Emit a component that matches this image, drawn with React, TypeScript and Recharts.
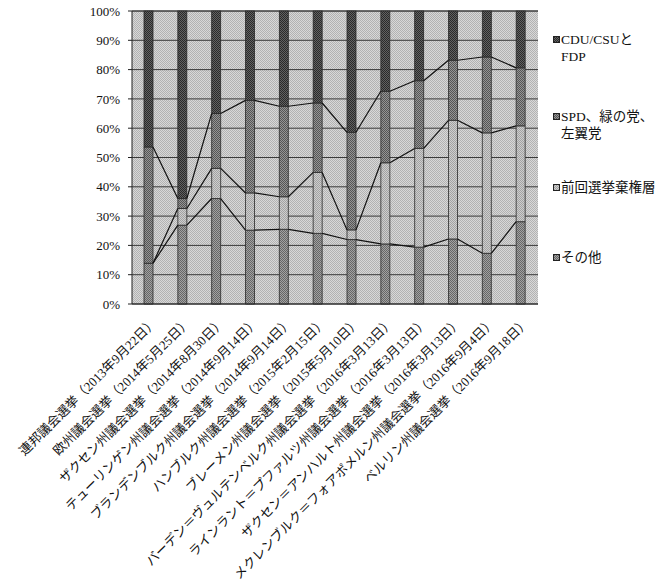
import { Bar, BarChart, CartesianGrid, XAxis, YAxis } from 'recharts';

const elections = [
  '連邦議会選挙（2013年9月22日）',
  '欧州議会選挙（2014年5月25日）',
  'ザクセン州議会選挙（2014年8月30日）',
  'テューリンゲン州議会選挙（2014年9月14日）',
  'ブランデンブルク州議会選挙（2014年9月14日）',
  'ハンブルク州議会選挙（2015年2月15日）',
  'ブレーメン州議会選挙（2015年5月10日）',
  'バーデン＝ヴュルテンベルク州議会選挙（2016年3月13日）',
  'ラインラント＝プファルツ州議会選挙（2016年3月13日）',
  'ザクセン＝アンハルト州議会選挙（2016年3月13日）',
  'メクレンブルク＝フォアポメルン州議会選挙（2016年9月4日）',
  'ベルリン州議会選挙（2016年9月18日）',
];

// shares in %, bottom of the stack first
const others = [13.9, 26.9, 36.0, 25.2, 25.5, 24.1, 22.0, 20.5, 19.4, 22.2, 17.3, 28.1];
const nonVoters = [0, 5.7, 10.3, 12.7, 11.1, 20.8, 3.3, 27.7, 33.7, 40.5, 41.1, 32.7];
const spdGreenLeft = [39.7, 3.4, 18.7, 31.6, 30.9, 23.7, 33.3, 24.4, 23.1, 20.5, 25.9, 19.8];
const cduFdp = [46.4, 64.0, 35.0, 30.5, 32.5, 31.4, 41.4, 27.4, 23.8, 16.8, 15.7, 19.4];

const yTicks = [0, 10, 20, 30, 40, 50, 60, 70, 80, 90, 100];

const legendItems = [
  { lines: ['CDU/CSUと', 'FDP'], fill: 'url(#pCdu)', top: 31 },
  { lines: ['SPD、緑の党、', '左翼党'], fill: 'url(#pSpd)', top: 108 },
  { lines: ['前回選挙棄権層'], fill: 'url(#pNon)', top: 179 },
  { lines: ['その他'], fill: 'url(#pOth)', top: 249 },
];

const data = elections.map((name, i) => ({
  name,
  others: others[i],
  nonVoters: nonVoters[i],
  spd: spdGreenLeft[i],
  cdu: cduFdp[i],
}));

const FONT = '"Liberation Serif", "Noto Sans CJK JP", serif';
const OUTLINE = '#2a2a2a';

// positions of the top bars, filled while they render, used for the series lines
const geom: { x: number; w: number; base: number; px: number }[] = [];

function cumulative(row: any) {
  const a = row.others;
  const b = a + row.nonVoters;
  const c = b + row.spd;
  return [a, b, c];
}

function TopBarWithLines(props: any) {
  const { x, y, width, height, index, payload, fill } = props;
  const total = payload.others + payload.nonVoters + payload.spd + payload.cdu;
  const px = height / payload.cdu;
  const base = y + total * px;
  geom[index] = { x, w: width, base, px };
  const prev = index > 0 ? geom[index - 1] : null;
  const prevRow = index > 0 ? data[index - 1] : null;
  const cur = cumulative(payload);
  return (
    <g>
      <rect x={x} y={y} width={width} height={height} fill={fill} stroke={OUTLINE} strokeWidth={0.8} />
      {prev && prevRow &&
        cumulative(prevRow).map((v, k) => (
          <line
            key={k}
            x1={prev.x + prev.w}
            y1={prev.base - v * prev.px}
            x2={x}
            y2={base - cur[k] * px}
            stroke="#111"
            strokeWidth={1.2}
          />
        ))}
    </g>
  );
}

function ElectionTick({ x, y, payload }: any) {
  const ax = x + 9;
  const ay = y + 19;
  return (
    <text
      x={ax}
      y={ay}
      transform={`rotate(-45, ${ax}, ${ay})`}
      textAnchor="end"
      fontSize={13}
      fontFamily={FONT}
      fill="#111"
    >
      {payload.value}
    </text>
  );
}

function Pattern({ id, a, b }: { id: string; a: string; b: string }) {
  return (
    <pattern id={id} width="2" height="2" patternUnits="userSpaceOnUse">
      <rect width="2" height="2" fill={b} />
      <rect width="1" height="1" fill={a} />
      <rect x="1" y="1" width="1" height="1" fill={a} />
    </pattern>
  );
}

export default function App() {
  return (
    <div style={{ position: 'absolute', left: 0, top: 0, width: 659, height: 585, background: '#fff' }}>
      <svg width="0" height="0" style={{ position: 'absolute' }}>
        <defs>
          <Pattern id="pBg" a="#b2b2b2" b="#d8d8d8" />
          <Pattern id="pCdu" a="#2a2a2a" b="#626262" />
          <Pattern id="pSpd" a="#555555" b="#959595" />
          <Pattern id="pNon" a="#a2a2a2" b="#cecece" />
          <Pattern id="pOth" a="#666666" b="#a2a2a2" />
        </defs>
      </svg>
      <BarChart
        width={659}
        height={585}
        data={data}
        margin={{ top: 11, right: 121, bottom: 0, left: 0 }}
        barSize={9}
      >
        <CartesianGrid vertical={false} stroke="#3a3a3a" fill="url(#pBg)" fillOpacity={1} />
        <XAxis
          dataKey="name"
          interval={0}
          height={281}
          tickLine={false}
          tickSize={0}
          tickMargin={0}
          axisLine={{ stroke: '#222' }}
          tick={<ElectionTick />}
        />
        <YAxis
          width={132}
          domain={[0, 100]}
          ticks={yTicks}
          tickFormatter={(v) => `${v}%`}
          tickSize={4}
          tickMargin={8}
          tickLine={{ stroke: '#222' }}
          axisLine={{ stroke: '#222' }}
          tick={{ fontSize: 13, fontFamily: FONT, fill: '#111' }}
        />
        <Bar dataKey="others" stackId="s" fill="url(#pOth)" stroke={OUTLINE} strokeWidth={0.8} isAnimationActive={false} />
        <Bar dataKey="nonVoters" stackId="s" fill="url(#pNon)" stroke={OUTLINE} strokeWidth={0.8} isAnimationActive={false} />
        <Bar dataKey="spd" stackId="s" fill="url(#pSpd)" stroke={OUTLINE} strokeWidth={0.8} isAnimationActive={false} />
        <Bar dataKey="cdu" stackId="s" fill="url(#pCdu)" isAnimationActive={false} shape={<TopBarWithLines />} />
      </BarChart>
      {legendItems.map((item) => (
        <div
          key={item.lines[0]}
          style={{ position: 'absolute', left: 553, top: item.top, fontFamily: FONT, fontSize: 13.5, lineHeight: '17px', color: '#111' }}
        >
          <svg width="7" height="7" style={{ position: 'absolute', left: 0, top: 5 }}>
            <rect x="0.5" y="0.5" width="6" height="6" fill={item.fill} stroke="#222" strokeWidth={1} />
          </svg>
          {item.lines.map((l) => (
            <div key={l} style={{ paddingLeft: 8, whiteSpace: 'nowrap' }}>
              {l}
            </div>
          ))}
        </div>
      ))}
    </div>
  );
}
